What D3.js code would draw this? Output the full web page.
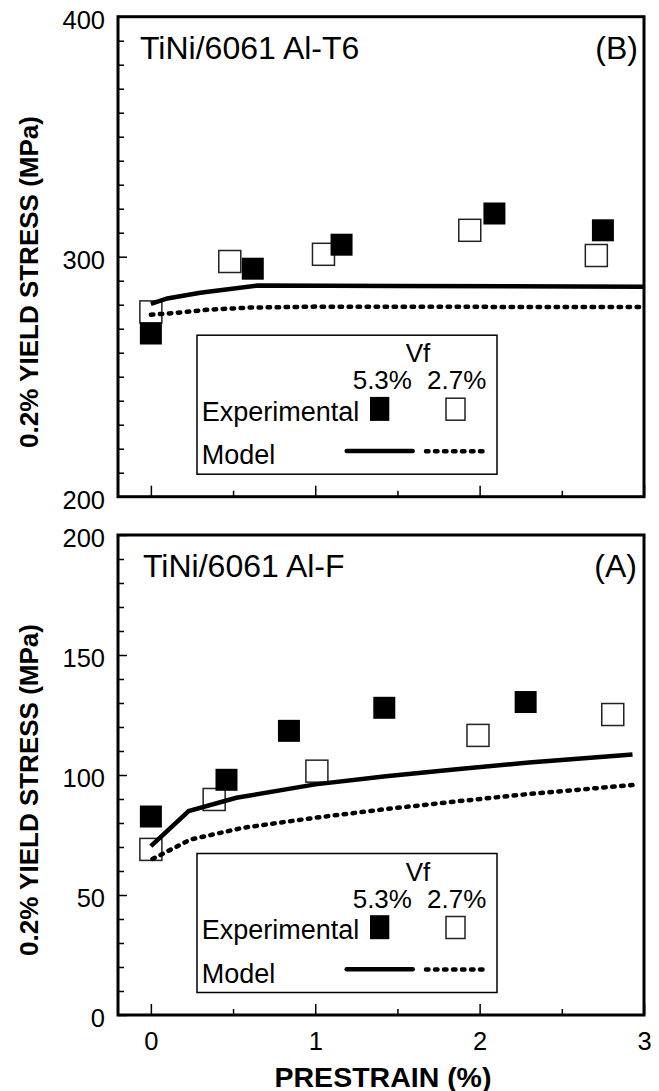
<!DOCTYPE html>
<html>
<head>
<meta charset="utf-8">
<script src="https://cdn.jsdelivr.net/npm/d3@7"></script>
<style>
    body { margin: 0; background: #fff; }
</style>
</head>
<body>
<svg id="chart" width="659" height="1091"></svg>
<script>
/**
 * Values
 */
const prestrainTicks = [0, 1, 2, 3];
const prestrainMinor = [0, 0.5, 1, 1.5, 2, 2.5];

// panel (B) TiNi/6061 Al-T6
const yTicksB = [200, 300, 400];
const expXB53 = [0, 0.62, 1.16, 2.09, 2.75];
const expYB53 = [268, 295, 305, 318, 311];
const expXB27 = [0, 0.48, 1.05, 1.94, 2.71];
const expYB27 = [277, 298, 301, 311, 300.5];
const modelXB53 = [0, 0.1, 0.3, 0.65, 1.5, 3];
const modelYB53 = [280.3, 282.6, 285, 288, 287.8, 287.5];
const modelXB27 = [0, 0.15, 0.35, 0.6, 1, 3];
const modelYB27 = [275.8, 276.6, 277.9, 278.8, 279.2, 279];

// panel (A) TiNi/6061 Al-F
const yTicksA = [0, 50, 100, 150, 200];
const expXA53 = [0, 0.46, 0.84, 1.42, 2.28];
const expYA53 = [82.7, 98, 118.4, 128, 130.4];
const expXA27 = [0, 0.385, 1.01, 1.99, 2.81];
const expYA27 = [69, 89.8, 101.6, 116.5, 125.2];
const modelXA53 = [0, 0.23, 0.52, 1, 1.43, 1.86, 2.3, 2.93];
const modelYA53 = [70.4, 85, 90.5, 96.1, 99.5, 102.4, 105.2, 108.5];
const modelXA27 = [0.01, 0.24, 0.56, 1, 1.43, 1.86, 2.3, 2.93];
const modelYA27 = [65, 73.1, 78, 82.2, 85.8, 89, 92.1, 95.8];

const legendVf = ["5.3%", "2.7%"];

const font = "'Liberation Sans', Arial, Helvetica, sans-serif";
const svg = d3.select("#chart");

const xScale = d3.scaleLinear().domain([-0.2, 3]).range([118, 644]);

const zip = (xs, ys) => xs.map((v, i) => [v, ys[i]]);

/**
 * draws one panel with frame, ticks, points, model lines and legend
 */
function drawPanel(top, yScale, yMajor, step, title, tag, showX, exp53, exp27, mod53, mod27, labelY) {
    const g = svg.append("g");
    const bottom = top + 480;
    const dom = yScale.domain();

    // y ticks
    const yMinor = d3.range(dom[0], dom[1] + 1, 10).filter(v => v % step !== 0);
    const yAxis = g.append("g")
        .attr("transform", `translate(${xScale.range()[0]},0)`)
        .call(d3.axisLeft(yScale).tickValues(yMajor).tickSize(-9).tickPadding(13));
    yAxis.selectAll("text")
        .attr("font-size", 25.5).attr("font-family", font).attr("fill", "#000")
        .attr("dy", "0.46em");
    g.append("g")
        .attr("transform", `translate(${xScale.range()[0]},0)`)
        .call(d3.axisLeft(yScale).tickValues(yMinor).tickSize(-6).tickFormat(""));

    // x ticks
    const xAxis = g.append("g")
        .attr("transform", `translate(0,${bottom})`)
        .call(d3.axisBottom(xScale).tickValues(prestrainTicks).tickSize(-11).tickPadding(17)
            .tickFormat(showX ? d3.format("d") : ""));
    xAxis.selectAll("text")
        .attr("font-size", 25.5).attr("font-family", font).attr("fill", "#000");
    g.append("g")
        .attr("transform", `translate(0,${bottom})`)
        .call(d3.axisBottom(xScale).tickValues(prestrainMinor.filter(v => v % 1 !== 0))
            .tickSize(-6).tickFormat(""));

    g.selectAll(".domain").remove();
    g.selectAll(".tick line").attr("stroke", "#000").attr("stroke-width", 1.5);

    // experimental points
    const size = 22;
    g.selectAll(".open").data(exp27).join("rect")
        .attr("class", "open")
        .attr("x", d => xScale(d[0]) - size / 2)
        .attr("y", d => yScale(d[1]) - size / 2)
        .attr("width", size).attr("height", size)
        .attr("fill", "#fff").attr("stroke", "#222").attr("stroke-width", 1.5);
    g.selectAll(".filled").data(exp53).join("rect")
        .attr("class", "filled")
        .attr("x", d => xScale(d[0]) - size / 2)
        .attr("y", d => yScale(d[1]) - size / 2)
        .attr("width", size).attr("height", size)
        .attr("fill", "#000");

    // model lines
    const line = d3.line().x(d => xScale(d[0])).y(d => yScale(d[1]));
    g.append("path").datum(mod53)
        .attr("d", line).attr("fill", "none")
        .attr("stroke", "#000").attr("stroke-width", 4.5);
    g.append("path").datum(mod27)
        .attr("d", line).attr("fill", "none")
        .attr("stroke", "#000").attr("stroke-width", 4.5)
        .attr("stroke-linecap", "round").attr("stroke-dasharray", "2.5,6.5");

    // frame
    g.append("rect")
        .attr("x", xScale.range()[0]).attr("y", top)
        .attr("width", xScale.range()[1] - xScale.range()[0]).attr("height", 480)
        .attr("fill", "none").attr("stroke", "#000").attr("stroke-width", 3);

    // title and tag
    g.append("text")
        .attr("x", title.x).attr("y", top + 42)
        .attr("font-size", 32).attr("font-family", font)
        .text(title.text);
    g.append("text")
        .attr("x", tag.x).attr("y", top + 42)
        .attr("text-anchor", "end")
        .attr("font-size", 32).attr("font-family", font)
        .text(tag.text);

    // legend
    const lg = g.append("g").attr("transform", `translate(197,${top + 318.5})`);
    lg.append("rect")
        .attr("width", 300).attr("height", 139)
        .attr("fill", "#fff").attr("stroke", "#000").attr("stroke-width", 1.5);
    lg.append("text").attr("x", 221).attr("y", 27).attr("text-anchor", "middle")
        .attr("font-size", 26).attr("font-family", font).text("Vf");
    lg.selectAll(".vf").data(legendVf).join("text")
        .attr("x", (d, i) => i ? 230 : 155.7).attr("y", 54)
        .attr("font-size", 26).attr("font-family", font).text(d => d);
    lg.append("text").attr("x", 4.7).attr("y", 85.7)
        .attr("font-size", 27).attr("font-family", font).text("Experimental");
    lg.append("rect").attr("x", 173).attr("y", 61.7).attr("width", 19.3).attr("height", 24)
        .attr("fill", "#000");
    lg.append("rect").attr("x", 249).attr("y", 63).attr("width", 19).attr("height", 22)
        .attr("fill", "#fff").attr("stroke", "#222").attr("stroke-width", 1.5);
    lg.append("text").attr("x", 4.7).attr("y", 129)
        .attr("font-size", 27).attr("font-family", font).text("Model");
    lg.append("line").attr("x1", 149.7).attr("x2", 215.7).attr("y1", 115.7).attr("y2", 115.7)
        .attr("stroke", "#000").attr("stroke-width", 4.5).attr("stroke-linecap", "round");
    lg.append("line").attr("x1", 229).attr("x2", 290.7).attr("y1", 116).attr("y2", 116)
        .attr("stroke", "#000").attr("stroke-width", 4.5)
        .attr("stroke-linecap", "round").attr("stroke-dasharray", "2.5,6.5");

    // y axis title
    svg.append("text")
        .attr("transform", `translate(38,${labelY}) rotate(-90)`)
        .attr("text-anchor", "middle")
        .attr("font-size", 26).attr("font-weight", "bold").attr("font-family", font)
        .text("0.2% YIELD STRESS (MPa)");
}

/**
 * Panel (B)
 */
const yScaleB = d3.scaleLinear().domain([200, 400]).range([496.7, 16.7]);
drawPanel(16.7, yScaleB, yTicksB, 100,
    {x: 140, text: "TiNi/6061 Al-T6"}, {x: 638, text: "(B)"}, false,
    zip(expXB53, expYB53), zip(expXB27, expYB27),
    zip(modelXB53, modelYB53), zip(modelXB27, modelYB27), 282);

/**
 * Panel (A)
 */
const yScaleA = d3.scaleLinear().domain([0, 200]).range([1015, 535]);
drawPanel(535, yScaleA, yTicksA, 50,
    {x: 143, text: "TiNi/6061 Al-F"}, {x: 637, text: "(A)"}, true,
    zip(expXA53, expYA53), zip(expXA27, expYA27),
    zip(modelXA53, modelYA53), zip(modelXA27, modelYA27), 790);

svg.append("text")
    .attr("x", 383).attr("y", 1086.5)
    .attr("text-anchor", "middle")
    .attr("font-size", 28.5).attr("font-weight", "bold").attr("font-family", font)
    .text("PRESTRAIN (%)");
</script>
</body>
</html>
